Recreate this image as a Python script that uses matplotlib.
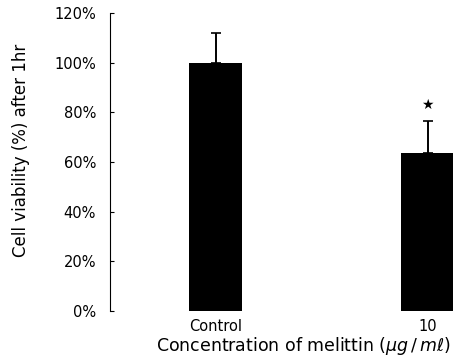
import numpy as np
import matplotlib as mpl
import matplotlib.pyplot as plt

mpl.rcParams["font.family"] = ["DejaVu Sans"]
mpl.rcParams["mathtext.fontset"] = "dejavusans"

GROUPS = ["Control", "10"]
VIABILITY = [100.0, 63.5]     # % of control after 1 hr
SEM = [12.0, 13.0]
SIGNIF = [False, True]

fig = plt.figure(figsize=(4.53, 3.61), dpi=100)
ax = fig.add_axes([110 / 453, 50 / 361, 343 / 453, 298 / 361])

x = np.arange(len(GROUPS))
ax.bar(x, VIABILITY, width=0.25, color="black", zorder=3)
ax.errorbar(x, VIABILITY, yerr=[np.zeros(len(SEM)), SEM], fmt="none",
            ecolor="black", elinewidth=1.4, capsize=3.6, capthick=1.2, zorder=4)

# significance mark above the error bar
for xi, v, e, s in zip(x, VIABILITY, SEM, SIGNIF):
    if s:
        ax.text(xi, v + e + 6.5, "★", ha="center", va="center", fontsize=10)

ax.set_xlim(-0.498, 1.12)
ax.set_ylim(0, 120)
ax.set_yticks(np.arange(0, 121, 20))
ax.set_yticklabels([f"{t}%" for t in range(0, 121, 20)], fontsize=10.5)
ax.set_xticks(x)
ax.set_xticklabels(GROUPS, fontsize=10.5)
ax.tick_params(axis="y", direction="in", length=3, width=0.8, pad=10)
ax.tick_params(axis="x", length=0, pad=6)

ax.spines[["top", "right", "bottom"]].set_visible(False)
ax.spines["left"].set_linewidth(0.8)

ax.set_ylabel("Cell viability (%) after 1hr", fontsize=12)
ax.yaxis.set_label_coords(-0.233, 0.54)
ax.set_xlabel(r"Concentration of melittin ($\mu g\,/\,m\ell$)", fontsize=12.5)
ax.xaxis.set_label_coords(0.563, -0.08)

fig.savefig("out.png", dpi=100)
